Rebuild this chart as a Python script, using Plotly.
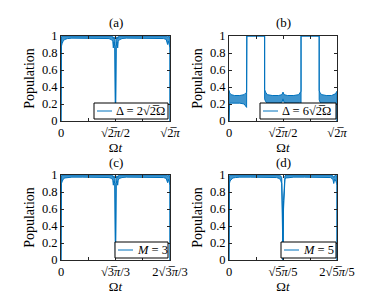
import plotly.graph_objects as go

# ---- data (time in units of the panel period, population) ----
t_a = [0, 0.0, 0.004, 0.01, 0.02, 0.035, 0.06, 0.1, 0.2, 0.3, 0.4, 0.44, 0.465, 0.475, 0.48, 0.486, 0.494, 0.5,
       0.506, 0.514, 0.52, 0.525, 0.535, 0.56, 0.6, 0.7, 0.8, 0.9, 0.94, 0.965, 0.978, 0.985, 0.99, 0.996, 1.0, 1.0]
lo_a = [0, 0.86, 0.88, 0.91, 0.94, 0.96, 0.97, 0.975, 0.975, 0.975, 0.975, 0.97, 0.955, 0.94, 0.86, 0.93, 0.88, 0.0,
        0.88, 0.93, 0.86, 0.94, 0.955, 0.97, 0.975, 0.975, 0.975, 0.975, 0.97, 0.96, 0.9, 0.94, 0.91, 0.88, 0.86, 0]
up_a = [0, 0.95, 0.99, 1.0, 1.0, 1.0, 1.0, 1.0, 1.0, 1.0, 1.0, 1.0, 1.0, 0.99, 0.97, 0.99, 0.96, 0.0,
        0.96, 0.99, 0.97, 0.99, 1.0, 1.0, 1.0, 1.0, 1.0, 1.0, 1.0, 1.0, 0.99, 1.0, 1.0, 0.99, 0.95, 0]

t_b = [0, 0.0, 0.006, 0.02, 0.05, 0.1, 0.14, 0.155, 0.163, 0.165, 0.25, 0.33, 0.33, 0.338, 0.355, 0.4, 0.46, 0.49,
       0.5, 0.51, 0.54, 0.6, 0.645, 0.66, 0.667, 0.667, 0.75, 0.835, 0.835, 0.843, 0.86, 0.9, 0.95, 0.985, 1.0, 1.0]
lo_b = [0, 0.2, 0.21, 0.21, 0.21, 0.21, 0.2, 0.18, 0.16, 1.0, 1.0, 1.0, 0.26, 0.23, 0.21, 0.21, 0.21, 0.22,
        0.26, 0.22, 0.21, 0.21, 0.21, 0.2, 0.19, 1.0, 1.0, 1.0, 0.25, 0.22, 0.21, 0.21, 0.21, 0.2, 0.19, 0]
up_b = [0, 0.36, 0.33, 0.31, 0.3, 0.3, 0.31, 0.33, 0.34, 1.0, 1.0, 1.0, 0.37, 0.34, 0.31, 0.3, 0.3, 0.31,
        0.34, 0.31, 0.3, 0.3, 0.31, 0.33, 0.35, 1.0, 1.0, 1.0, 0.36, 0.33, 0.31, 0.3, 0.3, 0.32, 0.35, 0]

t_c = [0, 0.0, 0.004, 0.01, 0.02, 0.035, 0.06, 0.1, 0.2, 0.3, 0.4, 0.44, 0.465, 0.475, 0.48, 0.486, 0.494, 0.5,
       0.506, 0.514, 0.52, 0.525, 0.535, 0.56, 0.6, 0.7, 0.8, 0.9, 0.94, 0.965, 0.978, 0.985, 0.99, 0.996, 1.0, 1.0]
lo_c = [0, 0.88, 0.9, 0.92, 0.95, 0.965, 0.97, 0.975, 0.975, 0.975, 0.975, 0.97, 0.96, 0.94, 0.88, 0.93, 0.9, 0.0,
        0.9, 0.93, 0.88, 0.94, 0.96, 0.97, 0.975, 0.975, 0.975, 0.975, 0.97, 0.96, 0.91, 0.95, 0.92, 0.9, 0.88, 0]
up_c = [0, 0.95, 0.99, 1.0, 1.0, 1.0, 1.0, 1.0, 1.0, 1.0, 1.0, 1.0, 1.0, 0.99, 0.97, 0.99, 0.96, 0.0,
        0.96, 0.99, 0.97, 0.99, 1.0, 1.0, 1.0, 1.0, 1.0, 1.0, 1.0, 1.0, 0.99, 1.0, 1.0, 0.99, 0.95, 0]

t_d = [0, 0.0, 0.004, 0.01, 0.02, 0.035, 0.06, 0.1, 0.2, 0.3, 0.4, 0.44, 0.465, 0.478, 0.488, 0.495, 0.5,
       0.505, 0.512, 0.518, 0.53, 0.56, 0.6, 0.7, 0.8, 0.9, 0.94, 0.962, 0.97, 0.978, 0.99, 0.996, 1.0, 1.0]
lo_d = [0, 0.88, 0.9, 0.93, 0.95, 0.965, 0.97, 0.975, 0.975, 0.975, 0.975, 0.97, 0.96, 0.94, 0.9, 0.5, 0.0,
        0.6, 0.9, 0.95, 0.965, 0.97, 0.975, 0.975, 0.975, 0.975, 0.97, 0.95, 0.9, 0.95, 0.93, 0.9, 0.88, 0]
up_d = [0, 0.95, 0.99, 1.0, 1.0, 1.0, 1.0, 1.0, 1.0, 1.0, 1.0, 1.0, 1.0, 0.99, 0.97, 0.6, 0.0,
        0.7, 0.97, 0.99, 1.0, 1.0, 1.0, 1.0, 1.0, 1.0, 1.0, 0.99, 0.97, 0.99, 1.0, 0.99, 0.95, 0]

labels = ["(a)", "(b)", "(c)", "(d)"]
legend_names = ["Δ = 2√2\u0305Ω", "Δ = 6√2\u0305Ω", "<i>M</i> = 3", "<i>M</i> = 5"]
x_ticktexts = [
    ["0", "", "√2\u0305<i>π</i>/2", "", "√2\u0305<i>π</i>"],
    ["0", "", "√2\u0305<i>π</i>/2", "", "√2\u0305<i>π</i>"],
    ["0", "", "√3\u0305<i>π</i>/3", "", "2√3\u0305<i>π</i>/3"],
    ["0", "", "√5\u0305<i>π</i>/5", "", "2√5\u0305<i>π</i>/5"],
]
x_tickvals = [0, 0.25, 0.5, 0.75, 1.0]
y_tickvals = [0, 0.2, 0.4, 0.6, 0.8, 1.0]
y_ticktext = ["0", "0.2", "0.4", "0.6", "0.8", "1"]

series = [(t_a, lo_a, up_a), (t_b, lo_b, up_b), (t_c, lo_c, up_c), (t_d, lo_d, up_d)]

BLUE = "#0072BD"
AX = "#262626"
FONT = "Liberation Serif, DejaVu Serif, serif"
W, H = 379, 294

# axes boxes in pixels (left, right, top, bottom)
boxes = [(53, 162, 28, 113), (221, 329, 28, 113), (53, 162, 167, 252), (221, 329, 167, 252)]
# legend boxes in pixels (left, right, top, bottom)
legboxes = [(86, 160, 95, 111), (252, 328, 95, 111), (107, 160, 234, 250), (273, 328, 234, 250)]

fig = go.Figure()
layout = dict(width=W, height=H, margin=dict(l=0, r=0, t=0, b=0), autosize=False,
              paper_bgcolor="white", plot_bgcolor="white", showlegend=False,
              font=dict(family=FONT, size=12, color="black"))
annotations = []
shapes = []
for i, ((t, lo, up), box, lb) in enumerate(zip(series, boxes, legboxes)):
    n = "" if i == 0 else str(i + 1)
    xa, ya = "x" + n, "y" + n
    fig.add_trace(go.Scatter(x=t, y=lo, mode="lines", line=dict(color=BLUE, width=1),
                             name=legend_names[i], xaxis=xa, yaxis=ya))
    fig.add_trace(go.Scatter(x=t, y=up, mode="lines", line=dict(color=BLUE, width=1),
                             fill="tonexty", fillcolor="rgba(0,114,189,0.75)",
                             xaxis=xa, yaxis=ya, name=legend_names[i]))
    l, r, tp, b = box
    xd = [l / W, r / W]
    yd = [1 - b / H, 1 - tp / H]
    common = dict(showline=True, mirror="ticks", linecolor=AX, linewidth=1, ticks="inside",
                  ticklen=3, tickcolor=AX, showgrid=False, zeroline=False,
                  tickfont=dict(family=FONT, size=12.5, color="black"))
    layout["xaxis" + n] = dict(domain=xd, range=[0, 1], tickvals=x_tickvals, ticktext=x_ticktexts[i],
                               anchor=ya, automargin=False,
                               title=dict(text="Ω<i>t</i>", standoff=2,
                                          font=dict(family=FONT, size=13, color="black")),
                               **common)
    layout["yaxis" + n] = dict(domain=yd, range=[0, 1], tickvals=y_tickvals, ticktext=y_ticktext,
                               anchor=xa, automargin=False,
                               title=dict(text="Population", standoff=3,
                                          font=dict(family=FONT, size=14, color="black")),
                               **common)
    annotations.append(dict(text=labels[i], x=(l + r) / 2 / W, y=1 - (tp - 13) / H, xref="paper", yref="paper",
                            showarrow=False, font=dict(family=FONT, size=13, color="black"),
                            xanchor="center", yanchor="middle"))
    # legend key (paper-positioned box, sample line and label)
    ll, lr, lt, lbm = lb
    shapes.append(dict(type="rect", xref="paper", yref="paper", x0=ll / W, x1=lr / W,
                       y0=1 - lbm / H, y1=1 - lt / H, line=dict(color="black", width=1),
                       fillcolor="white", layer="above"))
    ym = 1 - (lt + lbm) / 2 / H
    shapes.append(dict(type="line", xref="paper", yref="paper", x0=(ll + 3) / W, x1=(ll + 18) / W,
                       y0=ym, y1=ym, line=dict(color=BLUE, width=1), layer="above"))
    annotations.append(dict(text=legend_names[i], x=(ll + 20) / W, y=ym, xref="paper", yref="paper",
                            showarrow=False, font=dict(family=FONT, size=12.5, color="black"),
                            xanchor="left", yanchor="middle"))
layout["annotations"] = annotations
layout["shapes"] = shapes
fig.update_layout(**layout)
fig.write_html("out.html")
